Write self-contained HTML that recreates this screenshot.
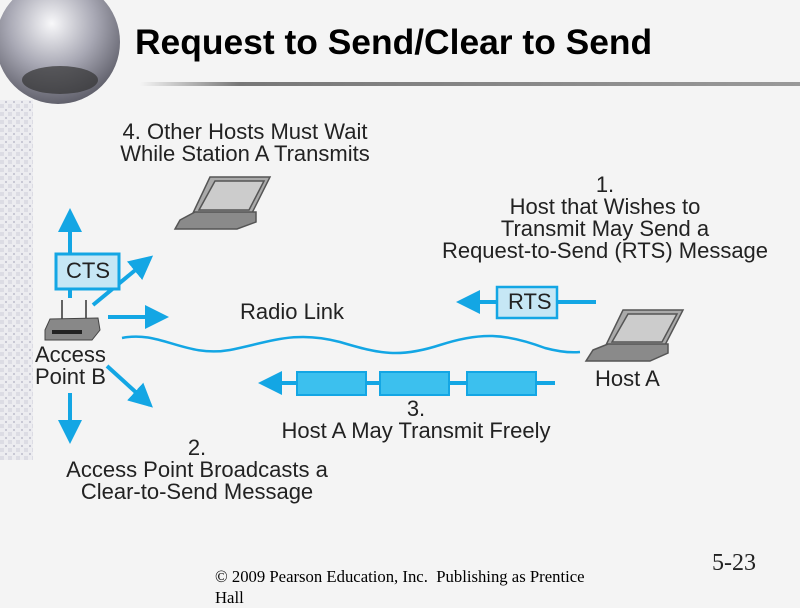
<!DOCTYPE html>
<html><head><style>
body{margin:0;width:800px;height:600px;background:#f4f4f4;position:relative;overflow:hidden;font-family:"Liberation Sans",Arial,sans-serif;}
.t{position:absolute;color:#222;font-size:22px;line-height:22px;white-space:nowrap;}
.c{text-align:center;}
</style></head><body>
<svg width="800" height="600" style="position:absolute;left:0;top:0">
<defs>
<radialGradient id="g" cx="0.45" cy="0.35" r="0.7">
<stop offset="0" stop-color="#f8f8fa"/><stop offset="0.5" stop-color="#a8a8b4"/><stop offset="1" stop-color="#555560"/>
</radialGradient>
<linearGradient id="ln" x1="0" x2="1"><stop offset="0" stop-color="#f4f4f4"/><stop offset="0.15" stop-color="#777"/><stop offset="1" stop-color="#999"/></linearGradient>
<pattern id="p" width="8" height="8" patternUnits="userSpaceOnUse"><rect width="8" height="8" fill="#ececf0"/><rect width="4" height="4" fill="#dcdce4"/><rect x="5" y="5" width="2" height="2" fill="#c8c8d4"/></pattern>
<marker id="a" markerWidth="6" markerHeight="6" refX="5" refY="3" orient="auto" markerUnits="strokeWidth"><path d="M0,0 L6,3 L0,6 z" fill="#13a6e4"/></marker>
</defs>
<rect x="0" y="100" width="33" height="360" fill="url(#p)"/>
<circle cx="58" cy="42" r="62" fill="url(#g)"/>
<ellipse cx="60" cy="80" rx="38" ry="14" fill="#333" opacity="0.7"/>
<rect x="140" y="82" width="660" height="4" fill="url(#ln)"/>
<g stroke="#13a6e4" stroke-width="4" fill="none">
<line x1="70" y1="298" x2="70" y2="212" marker-end="url(#a)"/>
<line x1="93" y1="305" x2="150" y2="258" marker-end="url(#a)"/>
<line x1="108" y1="317" x2="165" y2="317" marker-end="url(#a)"/>
<line x1="107" y1="366" x2="150" y2="405" marker-end="url(#a)"/>
<line x1="70" y1="393" x2="70" y2="440" marker-end="url(#a)"/>
<line x1="596" y1="302" x2="460" y2="302" marker-end="url(#a)"/>
<line x1="555" y1="383" x2="262" y2="383" marker-end="url(#a)"/>
</g>
<path d="M122,338 C160,330 185,358 230,350 C270,342 295,330 340,342 C380,354 400,358 440,345 C480,332 505,333 545,348 C560,352 570,353 580,352" stroke="#13a6e4" stroke-width="2.5" fill="none"/>
<rect x="56" y="254" width="63" height="35" fill="#c6e7f5" stroke="#13a6e4" stroke-width="3"/>
<rect x="497" y="287" width="60" height="31" fill="#c6e7f5" stroke="#13a6e4" stroke-width="2.5"/>
<g fill="#3cc0ee" stroke="#13a6e4" stroke-width="2"><rect x="297" y="372" width="69" height="23"/><rect x="380" y="372" width="69" height="23"/><rect x="467" y="372" width="69" height="23"/></g>
<g stroke="#333" stroke-width="1.5"><line x1="62" y1="300" x2="62" y2="320"/><line x1="86" y1="300" x2="86" y2="320"/></g>
<path d="M50,319 L98,318 L100,330 L92,340 L45,340 L45,330 z" fill="#888" stroke="#444"/>
<rect x="52" y="330" width="30" height="4" fill="#222"/>
<g stroke="#555" stroke-width="1.5">
<path d="M210,177 L270,177 L252,213 L193,213 z" fill="#aaa"/><path d="M215,181 L264,181 L249,210 L199,210 z" fill="#ccc"/>
<path d="M180,220 L195,212 L256,212 L256,222 L237,229 L175,229 z" fill="#8a8a8a"/>
<path d="M623,310 L683,310 L665,345 L606,345 z" fill="#aaa"/><path d="M628,314 L677,314 L662,342 L612,342 z" fill="#ccc"/>
<path d="M593,350 L608,344 L668,344 L668,353 L650,361 L586,361 z" fill="#8a8a8a"/>
</g>
</svg>
<div class="t" style="left:135px;top:22px;font-size:35.4px;font-weight:bold;color:#000;line-height:40px">Request to Send/Clear to Send</div>
<div class="t c" style="left:95px;top:121px;width:300px">4. Other Hosts Must Wait<br>While Station A Transmits</div>
<div class="t c" style="left:430px;top:174px;width:350px">1.<br>Host that Wishes to<br>Transmit May Send a<br>Request-to-Send (RTS) Message</div>
<div class="t" style="left:66px;top:260px">CTS</div>
<div class="t" style="left:508px;top:291px">RTS</div>
<div class="t" style="left:240px;top:301px">Radio Link</div>
<div class="t" style="left:35px;top:344px">Access<br>Point B</div>
<div class="t" style="left:595px;top:368px">Host A</div>
<div class="t c" style="left:266px;top:398px;width:300px">3.<br>Host A May Transmit Freely</div>
<div class="t c" style="left:47px;top:437px;width:300px">2.<br>Access Point Broadcasts a<br>Clear-to-Send Message</div>
<div class="t" style="left:712px;top:549px;font-family:'Liberation Serif',serif;font-size:24px;line-height:28px">5-23</div>
<div class="t" style="left:215px;top:566px;font-family:'Liberation Serif',serif;font-size:16.7px;line-height:21px;color:#000">© 2009 Pearson Education, Inc.&nbsp; Publishing as Prentice<br>Hall</div>
</body></html>
